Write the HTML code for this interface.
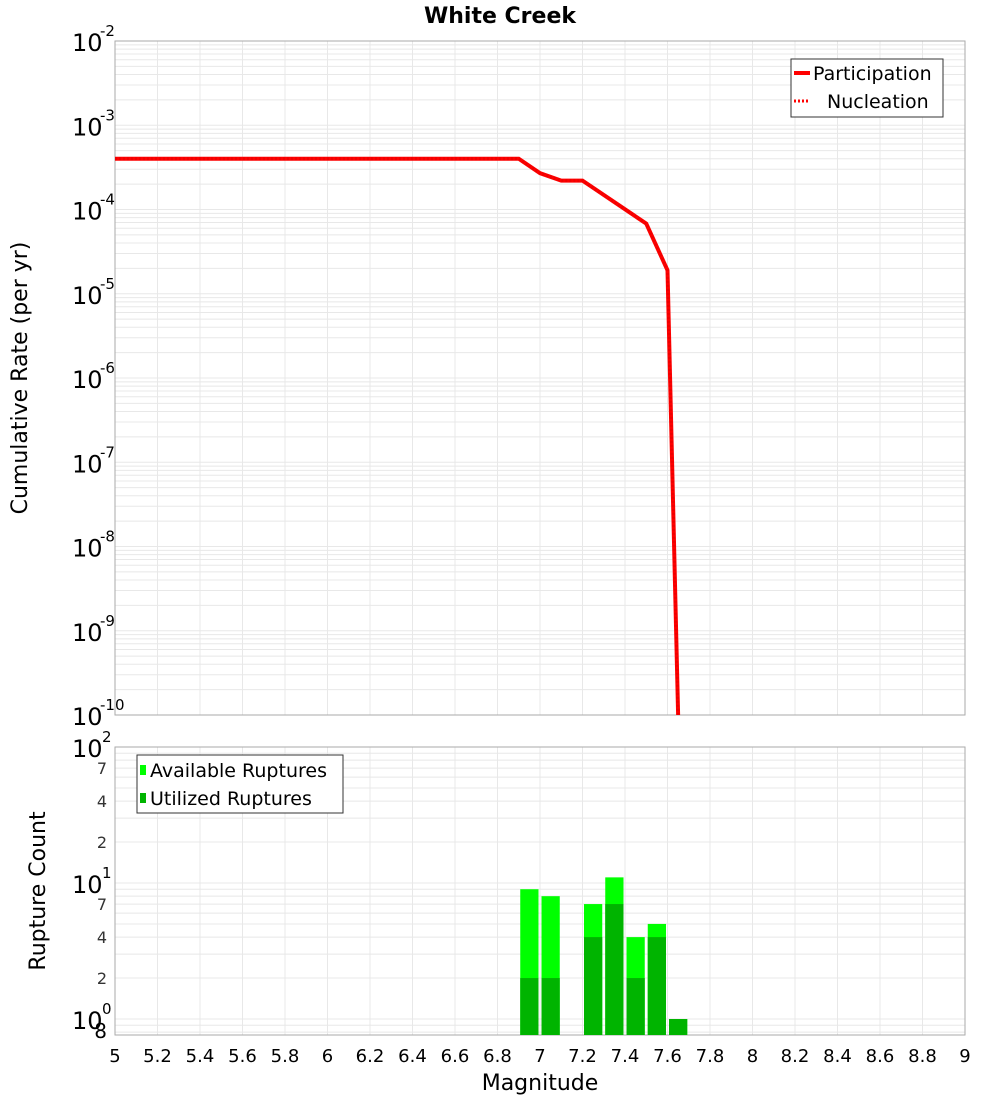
<!DOCTYPE html>
<html><head><meta charset="utf-8"><style>
body{margin:0;background:#fff;font-family:"Liberation Sans","DejaVu Sans",sans-serif}
svg text{font-family:"DejaVu Sans","Liberation Sans",sans-serif}
</style></head><body>
<svg id="c" width="1000" height="1100" xmlns="http://www.w3.org/2000/svg">
<text x="500" y="23" text-anchor="middle" font-size="22" font-weight="bold">White Creek</text>
<g id="topG"></g>
<g id="botG"></g>
<text transform="translate(27,378) rotate(-90)" text-anchor="middle" font-size="22">Cumulative Rate (per yr)</text>
<text transform="translate(45,891) rotate(-90)" text-anchor="middle" font-size="22">Rupture Count</text>
<text x="540" y="1090" text-anchor="middle" font-size="22">Magnitude</text>
</svg>
<script>
const rateMags=[5.0,6.9,7.0,7.1,7.2,7.5,7.6,7.65];
const rateVals=[4.0e-4,4.0e-4,2.7e-4,2.2e-4,2.2e-4,6.8e-5,1.9e-5,1e-10];
const binStarts=[6.9,7.0,7.2,7.3,7.4,7.5,7.6];
const availCounts=[9,8,7,11,4,5,1];
const usedCounts=[2,2,4,7,2,4,1];
const xTicks=["5","5.2","5.4","5.6","5.8","6","6.2","6.4","6.6","6.8","7","7.2","7.4","7.6","7.8","8","8.2","8.4","8.6","8.8","9"];

const NS="http://www.w3.org/2000/svg";
const X0=115,X1=965;
const x=m=>X0+(m-5)/4*(X1-X0);
const T0=41,T1=715; const yT=v=>T0+(-2-Math.log10(v))/8*(T1-T0);
const B0=747,B1=1035; const DEC=136; const yB=v=>B0+(2-Math.log10(v))*DEC;
function mk(p,tag,a,txt){const e=document.createElementNS(NS,tag);for(const k in a)e.setAttribute(k,a[k]);if(txt!==undefined)e.textContent=txt;p.appendChild(e);return e;}
const topG=document.getElementById('topG'),botG=document.getElementById('botG');
function grid(g,y0,y1,yf,decs){
  for(let i=0;i<=20;i++){const xx=x(5+i*0.2);const l=mk(g,'line',{x1:xx,x2:xx,y1:y0,y2:y1,stroke:'#e8e8e8'});
    
    }
  decs.forEach(d=>{for(let k=1;k<=9;k++){const yy=yf(k*Math.pow(10,d));if(yy<y0-0.5||yy>y1+0.5)continue;const l=mk(g,'line',{x1:X0,x2:X1,y1:yy,y2:yy,stroke:'#e8e8e8'});
    
    }});
}
grid(topG,T0,T1,yT,[-10,-9,-8,-7,-6,-5,-4,-3,-2]);
grid(botG,B0,B1,yB,[-1,0,1,2]);
mk(topG,'rect',{x:X0,y:T0,width:X1-X0,height:T1-T0,fill:'none',stroke:'#aaa'});
mk(botG,'rect',{x:X0,y:B0,width:X1-X0,height:B1-B0,fill:'none',stroke:'#aaa'});
for(let d=-2;d>=-10;d--){const yy=yT(Math.pow(10,d));
  const t=mk(topG,'text',{x:72,y:yy+10,'font-size':24},'10');
  
  
  mk(topG,'text',{x:100,y:yy-5,'font-size':15},String(d));}
[2,1,0].forEach(d=>{const yy=yB(Math.pow(10,d));
  const t=mk(botG,'text',{x:72,y:yy+10,'font-size':24},'10');
  
  
  mk(botG,'text',{x:102,y:yy-5,'font-size':15},String(d));});
[[70,'7'],[40,'4'],[20,'2'],[7,'7'],[4,'4'],[2,'2'],[0.8,'8']].forEach(([v,s])=>{
  const t=mk(botG,'text',{x:107,y:yB(v)+6,'font-size':v<1?20:16,'text-anchor':'end',fill:v<1?'#000':'#333'},s);
  
  });
xTicks.forEach(s=>{const t=mk(botG,'text',{x:x(+s),y:1062,'font-size':18,'text-anchor':'middle'},s);
  
  });
const pts=rateMags.map((m,i)=>x(m)+','+yT(rateVals[i])).join(' ');
const pl=mk(topG,'polyline',{points:pts,fill:'none',stroke:'#f00','stroke-width':4});


const nl=mk(topG,'polyline',{points:pts,fill:'none',stroke:'#e00','stroke-width':3,'stroke-dasharray':'2,2'});


binStarts.forEach((m,i)=>{const bx=x(m)+1.5,bw=x(m+0.1)-x(m)-3;
  const a=mk(botG,'rect',{x:bx,y:yB(availCounts[i]),width:bw,height:B1-yB(availCounts[i]),fill:'#00ff00'});
  
  
  const u=mk(botG,'rect',{x:bx,y:yB(usedCounts[i]),width:bw,height:B1-yB(usedCounts[i]),fill:'#00b400'});
  
  });
const lg=mk(topG,'g',{});


mk(lg,'rect',{x:791,y:59,width:152,height:58,fill:'#fff',stroke:'#333'});
mk(lg,'line',{x1:794,x2:810,y1:73,y2:73,stroke:'#f00','stroke-width':4});
mk(lg,'text',{x:813,y:80,'font-size':19},'Participation');
mk(lg,'line',{x1:794,x2:810,y1:101,y2:101,stroke:'#f00','stroke-width':3,'stroke-dasharray':'2,2'});
mk(lg,'text',{x:827,y:108,'font-size':19},'Nucleation');
const lb=mk(botG,'g',{});


mk(lb,'rect',{x:137,y:755,width:206,height:58,fill:'#fff',stroke:'#333'});
mk(lb,'rect',{x:140,y:765,width:6,height:10,fill:'#00ff00'});
mk(lb,'text',{x:150,y:777,'font-size':19},'Available Ruptures');
mk(lb,'rect',{x:140,y:793,width:6,height:10,fill:'#00b400'});
mk(lb,'text',{x:150,y:805,'font-size':19},'Utilized Ruptures');
</script>
</body></html>
